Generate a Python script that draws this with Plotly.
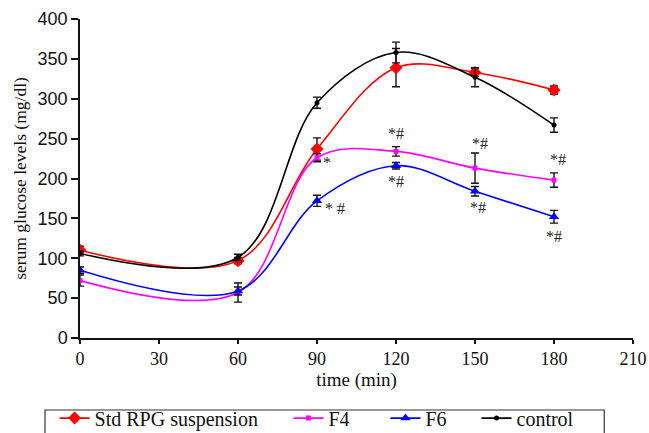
import plotly.graph_objects as go

# Sampling times (min)
time = [0, 60, 90, 120, 150, 180]

# Mean serum glucose (mg/dl) and SEM per group
std_rpg = [110, 97, 237, 339, 333, 311]
std_rpg_err = [5, 4, 14, 24, 5, 5]

f4 = [72, 57, 226, 234, 213, 198]
f4_err = [7, 12, 5, 6, 19, 9]

f6 = [85, 59, 172, 216, 184, 152]
f6_err = [4, 5, 7, 4, 6, 8]

control = [106, 101, 295, 358, 327, 267]
control_err = [3, 4, 7, 13, 12, 9]

x_ticks = [0, 30, 60, 90, 120, 150, 180, 210]
y_ticks = [0, 50, 100, 150, 200, 250, 300, 350, 400]

SERIF = "Liberation Serif"

series = [
    ("Std RPG suspension", std_rpg, std_rpg_err, "#ff0000", "diamond", 10, "legend"),
    ("F4", f4, f4_err, "#ff00ff", "square", 5, "legend2"),
    ("F6", f6, f6_err, "#0000ff", "triangle-up", 9, "legend2"),
    ("control", control, control_err, "#000000", "circle", 5, "legend3"),
]

fig = go.Figure()
for name, vals, errs, color, symbol, msize, leg in series:
    fig.add_trace(go.Scatter(
        x=time, y=vals, name=name, mode="lines+markers",
        line=dict(color=color, width=1.6, shape="spline", smoothing=1.0),
        marker=dict(color=color, symbol=symbol, size=msize, line=dict(width=0)),
        error_y=dict(type="data", array=errs, visible=True,
                     color="#111111", thickness=1.4, width=4),
        legend=leg,
    ))

# Significance marks beside the F4 / F6 points: (values, time, text, dx, dy)
sig_marks = [
    (f4, 90, "*", 10, -5),
    (f6, 90, "* #", 18, -8),
    (f4, 120, "*#", 0, 18),
    (f6, 120, "*#", 0, -16),
    (f4, 150, "*#", 5, 25),
    (f6, 150, "*#", 3, -16),
    (f4, 180, "*#", 4, 21),
    (f6, 180, "*#", 0, -20),
]
for vals, t, txt, dx, dy in sig_marks:
    fig.add_annotation(
        x=t, y=vals[time.index(t)], text=txt, showarrow=False,
        xshift=dx, yshift=dy,
        font=dict(family=SERIF, size=16, color="#222222"),
    )

# Legend frame
fig.add_shape(type="rect", xref="paper", yref="paper",
              x0=-0.0633, x1=0.948, y0=-0.40, y1=-0.2257,
              line=dict(color="#333333", width=1.2), fillcolor="rgba(0,0,0,0)")

legend_common = dict(orientation="h", y=-0.19, xanchor="left", yanchor="top",
                     font=dict(family=SERIF, size=20, color="#111111"),
                     bgcolor="rgba(0,0,0,0)", borderwidth=0)

fig.update_layout(
    width=649, height=433,
    margin=dict(l=80, r=16, t=19, b=95, autoexpand=False),
    paper_bgcolor="white", plot_bgcolor="white",
    showlegend=True,
    legend=dict(x=-0.046, **legend_common),
    legend2=dict(x=0.377, entrywidth=52, entrywidthmode="pixels", **legend_common),
    legend3=dict(x=0.717, **legend_common),
    xaxis=dict(
        range=[0, 210], tickvals=x_ticks, ticktext=[str(v) for v in x_ticks],
        showline=True, linecolor="#111111", linewidth=1.5,
        ticks="outside", ticklen=4, tickcolor="#111111", tickwidth=1.5,
        showgrid=False, zeroline=False,
        tickfont=dict(family=SERIF, size=18, color="#111111"),
        title=dict(text="time (min)", font=dict(family=SERIF, size=19, color="#111111"),
                   standoff=4),
    ),
    yaxis=dict(
        range=[0, 400], tickvals=y_ticks,
        showline=True, linecolor="#111111", linewidth=1.5,
        ticks="outside", ticklen=7, tickcolor="#111111", tickwidth=1.5,
        showgrid=False, zeroline=False,
        tickfont=dict(family="Liberation Sans", size=18, color="#111111"),
        title=dict(text="serum glucose levels (mg/dl)",
                   font=dict(family=SERIF, size=17.5, color="#111111"), standoff=6),
    ),
)

fig.write_html("out.html")
